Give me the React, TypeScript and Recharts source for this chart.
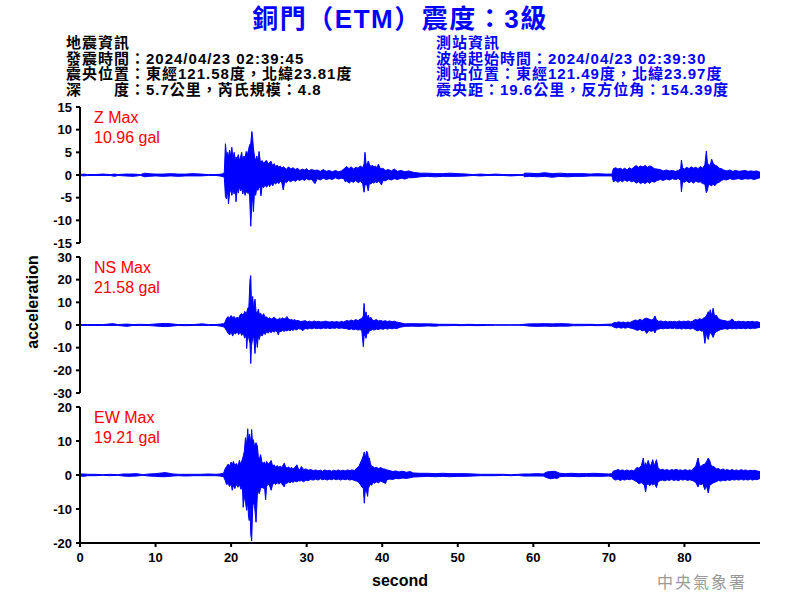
import React from 'react';
import { AreaChart, Area, XAxis, YAxis } from 'recharts';

// [second, low, high] envelope of the record
type Sample = [number, number, number];

const secondTicks = [0, 10, 20, 30, 40, 50, 60, 70, 80];
const zTicks = [-15, -10, -5, 0, 5, 10, 15];
const nsTicks = [-30, -20, -10, 0, 10, 20, 30];
const ewTicks = [-20, -10, 0, 10, 20];

const zTrace: Sample[] = [
  [0, -0.1, 0.1], [0.5, -0.2, 0.2], [1, -0.1, 0.1], [2, -0.1, 0.1], [3, -0.1, 0.2], [4, -0.1, 0.1],
  [4.6, -0.3, 0.2], [5, -0.1, 0.1], [6, -0.2, 0.2], [7, -0.3, 0.2], [8, -0.1, 0.1], [8.6, -0.4, 0.4],
  [9, -0.3, 0.3], [10, -0.2, 0.2], [11, -0.3, 0.2], [12, -0.2, 0.3], [13, -0.3, 0.2], [14, -0.2, 0.2],
  [15, -0.2, 0.3], [16, -0.2, 0.2], [17, -0.1, 0.1], [18, -0.1, 0.1], [18.8, -0.3, 0.2], [19.1, -0.5, 0.5],
  [19.25, -4.8, 6.9], [19.4, -5.3, 4.2], [19.55, -3.5, 5.0], [19.65, -6.4, 3.8], [19.8, -4.0, 5.5],
  [19.95, -3.2, 4.2], [20.1, -4.5, 6.1], [20.25, -3.0, 3.5], [20.4, -4.2, 5.0], [20.55, -2.8, 3.2],
  [20.65, -5.9, 4.0], [20.8, -3.0, 3.6], [20.95, -4.0, 4.5], [21.1, -2.6, 3.2], [21.25, -3.5, 4.0],
  [21.4, -3.0, 5.0], [21.55, -4.2, 3.0], [21.7, -3.0, 4.2], [21.85, -4.5, 3.8], [22.0, -3.5, 5.2],
  [22.15, -4.0, 4.4], [22.3, -3.8, 5.6], [22.45, -4.6, 6.6], [22.6, -11.3, 7.0], [22.75, -6.0, 9.6],
  [22.85, -5.0, 8.2], [22.95, -8.1, 6.0], [23.1, -3.5, 4.0], [23.25, -4.5, 3.2], [23.4, -2.8, 4.2],
  [23.55, -3.4, 3.0], [23.7, -2.6, 5.2], [23.85, -3.0, 3.2], [23.95, -4.6, 2.8], [24.1, -2.5, 3.2],
  [24.3, -2.8, 2.6], [24.5, -2.2, 3.0], [24.7, -2.7, 3.2], [24.9, -2.0, 2.4], [25.1, -2.6, 2.8],
  [25.3, -1.8, 3.0], [25.5, -2.4, 2.0], [25.7, -1.7, 2.5], [25.9, -2.0, 1.8], [26.1, -1.5, 2.2],
  [26.3, -1.9, 1.7], [26.5, -1.4, 2.0], [26.7, -1.6, 1.5], [26.9, -3.3, 1.8], [27.1, -1.4, 1.6],
  [27.3, -1.7, 1.2], [27.6, -1.2, 1.8], [27.9, -1.5, 1.3], [28.2, -1.1, 1.6], [28.5, -1.4, 1.2],
  [28.8, -1.0, 1.5], [29.1, -1.2, 1.0], [29.4, -0.9, 1.3], [29.7, -1.2, 1.1], [30.0, -0.8, 1.4],
  [30.3, -1.1, 0.9], [30.6, -0.9, 1.2], [31.1, -1.9, 1.0], [31.4, -0.8, 1.1], [31.8, -1.1, 0.8],
  [32.2, -0.7, 1.2], [32.6, -1.0, 0.8], [33.0, -0.8, 1.0], [33.4, -1.0, 0.7], [33.8, -0.6, 1.0],
  [34.2, -0.9, 0.7], [34.6, -0.7, 0.9], [34.9, -0.8, 1.3], [35.1, -1.5, 1.6], [35.3, -1.3, 1.9],
  [35.6, -1.8, 1.4], [35.9, -1.4, 1.8], [36.2, -1.6, 1.3], [36.5, -1.2, 1.7], [36.8, -1.7, 1.5],
  [37.1, -1.4, 2.0], [37.4, -1.8, 1.6], [37.6, -3.8, 2.4], [37.72, -2.2, 5.0], [37.85, -2.0, 2.6],
  [38.0, -2.4, 2.2], [38.15, -3.5, 3.1], [38.3, -1.8, 2.4], [38.5, -2.0, 1.8], [38.7, -1.6, 2.2],
  [38.9, -1.8, 1.7], [39.1, -1.5, 2.0], [39.3, -1.7, 1.6], [39.5, -1.4, 2.4], [39.7, -1.6, 1.5],
  [39.9, -2.2, 1.4], [40.1, -1.2, 1.5], [40.4, -1.3, 1.0], [40.8, -0.9, 1.2], [41.2, -1.1, 0.9],
  [41.6, -0.8, 1.3], [42.0, -1.0, 0.8], [42.5, -0.7, 1.0], [43.0, -0.9, 0.7], [43.5, -0.6, 0.9],
  [44.1, -0.6, 0.6], [45, -0.4, 0.4], [46, -0.3, 0.4], [47, -0.4, 0.3], [48, -0.3, 0.3], [49, -0.3, 0.4],
  [50, -0.3, 0.3], [51.2, -0.2, 0.2], [52, -0.1, 0.1], [53, -0.2, 0.2], [54, -0.1, 0.1], [55, -0.1, 0.2],
  [56, -0.1, 0.1], [57, -0.2, 0.1], [58, -0.1, 0.1], [58.7, -0.1, 0.1], [58.8, -0.4, 0.4], [59.5, -0.3, 0.4],
  [60.5, -0.4, 0.3], [61.5, -0.3, 0.5], [62.5, -0.5, 0.3], [63.5, -0.3, 0.4], [64.5, -0.4, 0.3],
  [65.5, -0.3, 0.3], [66.6, -0.3, 0.3], [67.5, -0.2, 0.2], [68.5, -0.2, 0.3], [69.5, -0.2, 0.2],
  [70.4, -0.2, 0.2], [70.6, -1.5, 1.4], [70.9, -1.2, 1.6], [71.2, -1.6, 1.3], [71.5, -1.2, 1.5],
  [71.8, -1.5, 1.2], [72.1, -1.1, 1.5], [72.4, -1.4, 1.1], [72.7, -1.2, 1.6], [73.0, -1.5, 1.3],
  [73.3, -1.3, 1.7], [73.6, -1.8, 2.1], [73.9, -1.5, 1.7], [74.2, -1.9, 2.0], [74.5, -1.6, 1.8],
  [74.8, -1.9, 2.1], [75.1, -1.5, 1.7], [75.4, -1.8, 2.0], [75.7, -1.4, 1.8], [76.0, -1.6, 1.4],
  [76.4, -1.2, 1.3], [76.8, -1.0, 1.2], [77.2, -1.2, 0.9], [77.6, -0.9, 1.1], [78.0, -1.1, 0.9],
  [78.4, -0.8, 1.0], [78.8, -1.0, 0.8], [79.2, -0.8, 1.0], [79.5, -1.2, 1.4], [79.6, -3.7, 3.3],
  [79.75, -1.5, 1.6], [80.0, -1.6, 1.3], [80.3, -1.3, 1.7], [80.6, -1.7, 1.4], [80.9, -1.4, 1.8],
  [81.2, -1.8, 1.5], [81.5, -1.3, 1.7], [81.8, -1.6, 1.4], [82.1, -1.5, 1.9], [82.4, -1.9, 1.5],
  [82.7, -2.0, 2.2], [82.9, -3.9, 5.3], [83.05, -3.3, 2.5], [83.2, -2.0, 2.4], [83.4, -2.2, 2.0],
  [83.6, -2.4, 3.5], [83.8, -2.0, 2.6], [84.0, -2.4, 2.2], [84.3, -1.8, 2.0], [84.6, -1.6, 1.5],
  [84.9, -1.2, 1.4], [85.2, -1.0, 1.1], [85.6, -1.1, 0.9], [86.0, -0.8, 1.1], [86.4, -1.0, 0.8],
  [86.8, -0.9, 1.0], [87.2, -0.8, 0.8], [87.6, -1.0, 0.9], [88.0, -0.8, 1.0], [88.4, -0.9, 0.8],
  [88.8, -0.8, 0.9], [89.2, -1.0, 0.8], [89.6, -0.8, 0.9], [90, -0.6, 0.6],
];

const nsTrace: Sample[] = [
  [0, -0.2, 0.2], [1, -0.2, 0.2], [2, -0.2, 0.2], [3, -0.2, 0.2], [4.4, -0.2, 0.6], [5, -0.2, 0.2],
  [6.2, -0.6, 0.4], [7, -0.2, 0.2], [8, -0.2, 0.3], [9, -0.2, 0.2], [10.6, -0.6, 0.6], [11.3, -0.7, 0.7],
  [12.1, -0.5, 0.5], [13, -0.2, 0.2], [14, -0.3, 0.2], [15, -0.2, 0.2], [16.2, -0.2, 0.5], [17, -0.2, 0.2],
  [18, -0.2, 0.2], [18.6, -0.5, 0.4], [19.0, -0.8, 0.6], [19.2, -1.5, 1.2], [19.4, -2.5, 3.0],
  [19.6, -3.6, 3.7], [19.8, -4.4, 3.0], [20.0, -3.0, 4.2], [20.2, -4.9, 3.2], [20.4, -3.4, 3.8],
  [20.6, -4.0, 2.8], [20.8, -2.8, 3.5], [21.0, -4.2, 3.0], [21.2, -3.0, 4.5], [21.4, -4.6, 5.0],
  [21.6, -3.5, 4.2], [21.8, -5.8, 6.0], [22.0, -4.5, 5.2], [22.06, -10.4, 5.5], [22.2, -4.2, 7.4],
  [22.35, -6.0, 8.0], [22.5, -8.0, 20.0], [22.6, -17.0, 21.8], [22.7, -9.0, 9.0], [22.85, -6.0, 12.6],
  [23.0, -5.5, 7.0], [23.16, -12.6, 11.4], [23.3, -5.0, 6.0], [23.47, -9.9, 5.2], [23.6, -4.6, 7.0],
  [23.73, -6.4, 4.8], [23.9, -4.0, 5.2], [24.1, -4.9, 4.0], [24.3, -3.5, 5.0], [24.5, -4.2, 3.4],
  [24.7, -3.0, 3.6], [24.9, -3.6, 2.8], [25.1, -2.8, 3.2], [25.3, -3.4, 2.6], [25.5, -2.6, 3.0],
  [25.7, -3.2, 3.4], [25.9, -2.5, 2.8], [26.1, -3.0, 2.4], [26.25, -4.4, 2.6], [26.4, -2.6, 3.0],
  [26.6, -3.0, 2.5], [26.8, -2.4, 3.2], [27.0, -2.8, 2.6], [27.2, -2.4, 3.0], [27.4, -2.6, 3.7],
  [27.6, -2.2, 2.6], [27.8, -2.6, 2.2], [28.0, -2.0, 2.5], [28.2, -2.4, 2.0], [28.4, -1.8, 2.4],
  [28.6, -2.2, 1.9], [28.9, -1.6, 2.0], [29.2, -1.8, 1.5], [29.5, -2.5, 1.7], [29.8, -1.5, 1.9],
  [30.1, -1.8, 1.4], [30.4, -1.4, 1.7], [30.7, -1.7, 1.3], [31.0, -1.3, 1.8], [31.3, -1.6, 1.4],
  [31.6, -1.4, 1.6], [31.9, -1.7, 1.3], [32.2, -1.3, 1.5], [32.5, -1.5, 1.7], [32.8, -1.3, 1.4],
  [33.1, -1.6, 1.3], [33.4, -1.3, 1.5], [33.7, -1.5, 1.3], [34.0, -1.2, 1.5], [34.3, -1.5, 1.2],
  [34.6, -1.3, 1.6], [34.9, -1.5, 1.3], [35.3, -1.6, 2.0], [35.6, -2.0, 1.7], [35.9, -1.7, 2.2],
  [36.2, -2.1, 1.8], [36.5, -1.8, 2.4], [36.8, -2.2, 1.9], [37.06, -2.0, 2.6], [37.3, -2.5, 2.8],
  [37.5, -9.6, 4.0], [37.6, -5.0, 9.5], [37.72, -4.0, 3.5], [37.85, -5.9, 5.8], [38.0, -3.5, 3.0],
  [38.16, -3.7, 4.4], [38.3, -2.5, 2.8], [38.5, -2.4, 3.4], [38.7, -2.0, 2.2], [38.9, -2.2, 1.9],
  [39.2, -1.8, 2.4], [39.5, -2.0, 1.8], [39.8, -1.6, 2.0], [40.1, -1.9, 1.6], [40.4, -1.5, 1.9],
  [40.7, -1.8, 1.5], [41.0, -1.4, 1.8], [41.3, -1.7, 1.4], [41.6, -1.4, 1.7], [41.9, -1.6, 1.3],
  [42.35, -1.0, 1.0], [43, -0.6, 0.5], [44, -0.5, 0.6], [45, -0.6, 0.5], [46, -0.4, 0.5], [47, -0.5, 0.4],
  [47.6, -0.3, 0.3], [48.5, -0.3, 0.3], [49.5, -0.2, 0.3], [50.5, -0.3, 0.2], [51.5, -0.2, 0.3],
  [52.5, -0.3, 0.2], [53.8, -0.2, 0.2], [55, -0.1, 0.1], [56, -0.1, 0.1], [57, -0.1, 0.1], [58, -0.1, 0.1],
  [58.7, -0.2, 0.3], [59.6, -0.5, 0.5], [60.5, -0.6, 0.5], [61.5, -0.5, 0.6], [62.5, -0.6, 0.5],
  [63.5, -0.5, 0.6], [64.5, -0.5, 0.5], [65.3, -0.3, 0.3], [66.5, -0.3, 0.3], [67.5, -0.2, 0.3],
  [68.5, -0.3, 0.2], [69.5, -0.2, 0.3], [70.4, -0.4, 0.4], [70.7, -1.0, 1.1], [71.0, -1.3, 1.0],
  [71.3, -1.0, 1.4], [71.6, -1.4, 1.1], [71.9, -1.1, 1.3], [72.2, -1.4, 1.0], [72.5, -1.0, 1.3],
  [72.8, -1.3, 1.1], [73.2, -1.6, 1.8], [73.5, -2.0, 2.2], [73.8, -2.4, 1.9], [74.1, -1.9, 2.5],
  [74.4, -2.6, 2.0], [74.7, -2.2, 2.8], [75.0, -3.7, 3.0], [75.3, -2.4, 2.6], [75.6, -2.8, 2.2],
  [75.9, -2.4, 2.6], [76.1, -3.5, 4.0], [76.3, -2.0, 2.2], [76.6, -1.8, 1.6], [76.9, -1.5, 1.8],
  [77.2, -1.7, 1.4], [77.5, -1.4, 1.7], [77.8, -1.6, 1.3], [78.1, -1.3, 1.6], [78.4, -1.6, 1.4],
  [78.7, -1.3, 1.6], [79.0, -1.7, 1.3], [79.3, -1.4, 1.8], [79.6, -1.8, 1.4], [79.9, -1.4, 1.7],
  [80.2, -1.7, 1.5], [80.5, -1.5, 1.8], [80.8, -1.8, 1.4], [81.1, -1.4, 1.7], [81.4, -2.0, 2.4],
  [81.7, -2.6, 2.2], [82.0, -2.2, 2.8], [82.3, -2.8, 2.4], [82.5, -2.4, 3.0], [82.7, -8.1, 3.3],
  [82.9, -3.8, 4.0], [83.15, -6.4, 5.9], [83.3, -4.0, 4.5], [83.4, -3.5, 6.7], [83.6, -4.0, 4.2],
  [83.8, -5.5, 7.4], [84.0, -3.6, 3.5], [84.2, -3.0, 4.4], [84.5, -2.5, 2.8], [84.8, -2.0, 2.3],
  [85.1, -1.8, 2.0], [85.4, -1.6, 1.9], [85.7, -1.9, 1.6], [86.0, -1.5, 1.8], [86.3, -1.7, 2.7],
  [86.6, -1.5, 1.6], [86.9, -1.7, 1.4], [87.2, -1.4, 1.7], [87.5, -1.6, 1.4], [87.8, -1.4, 1.6],
  [88.1, -1.7, 1.3], [88.4, -1.3, 1.6], [88.7, -1.6, 1.4], [89.0, -1.4, 1.6], [89.3, -1.5, 1.3],
  [89.6, -1.3, 1.5], [90, -1.0, 1.0],
];

const ewTrace: Sample[] = [
  [0, -0.3, 0.3], [0.5, -0.4, 0.3], [1, -0.2, 0.2], [2, -0.2, 0.2], [3, -0.1, 0.1], [4, -0.2, 0.2],
  [5, -0.1, 0.1], [5.7, -0.3, 0.3], [6.5, -0.4, 0.3], [7.5, -0.3, 0.4], [8.3, -0.1, 0.1], [9.1, -0.3, 0.3],
  [10, -0.4, 0.4], [10.8, -0.5, 0.6], [11.3, -0.5, 0.7], [12.3, -0.3, 0.3], [13, -0.2, 0.2], [14, -0.3, 0.2],
  [15, -0.2, 0.2], [16, -0.2, 0.2], [17, -0.2, 0.3], [18, -0.2, 0.2], [18.5, -0.3, 0.3], [19.0, -0.5, 0.5],
  [19.2, -1.5, 1.8], [19.4, -2.8, 2.5], [19.6, -2.5, 3.2], [19.8, -3.4, 2.6], [20.0, -2.6, 3.8],
  [20.15, -4.5, 3.0], [20.3, -3.0, 4.0], [20.5, -4.0, 2.8], [20.7, -2.7, 3.4], [20.9, -3.6, 2.6],
  [21.1, -2.8, 4.3], [21.3, -4.2, 3.0], [21.5, -3.4, 4.8], [21.6, -9.5, 5.5], [21.75, -6.0, 7.0],
  [21.9, -8.0, 11.0], [22.06, -10.4, 9.0], [22.2, -8.0, 13.6], [22.3, -12.0, 10.0], [22.4, -13.4, 12.0],
  [22.5, -9.0, 11.0], [22.6, -17.4, 9.5], [22.72, -19.4, 13.4], [22.85, -10.0, 9.0], [22.94, -8.0, 10.4],
  [23.1, -9.0, 8.5], [23.3, -13.9, 9.5], [23.47, -6.0, 8.5], [23.6, -4.5, 5.5], [23.73, -5.5, 4.5],
  [23.9, -4.0, 6.0], [24.1, -3.5, 3.6], [24.26, -4.0, 3.5], [24.4, -3.0, 3.8], [24.57, -7.3, 3.0],
  [24.7, -3.4, 4.0], [24.9, -2.6, 3.2], [25.1, -3.2, 3.6], [25.3, -4.5, 4.3], [25.5, -2.8, 2.6],
  [25.7, -2.4, 3.0], [25.9, -2.8, 2.2], [26.1, -2.2, 2.8], [26.3, -2.7, 2.3], [26.5, -2.2, 2.6],
  [26.7, -2.6, 2.2], [27.04, -3.5, 3.5], [27.2, -2.2, 2.4], [27.4, -2.5, 2.0], [27.6, -2.0, 2.4],
  [27.8, -2.3, 1.9], [28.0, -1.9, 2.2], [28.2, -2.2, 1.8], [28.4, -1.8, 2.1], [28.7, -2.0, 3.0],
  [28.9, -1.7, 1.9], [29.1, -1.8, 1.5], [29.3, -1.6, 2.5], [29.6, -2.0, 1.6], [29.9, -1.5, 1.8],
  [30.2, -1.7, 1.4], [30.5, -1.3, 1.6], [30.9, -1.5, 1.3], [31.2, -1.2, 1.5], [31.5, -1.5, 1.2],
  [31.8, -1.1, 1.4], [32.1, -1.4, 1.1], [32.4, -1.2, 1.5], [32.7, -1.5, 1.2], [33.0, -1.2, 1.4],
  [33.3, -1.4, 1.1], [33.6, -1.1, 1.4], [33.9, -1.4, 1.2], [34.2, -1.2, 1.5], [34.5, -1.5, 1.2],
  [34.8, -1.2, 1.4], [35.1, -1.4, 1.2], [35.4, -1.2, 1.5], [35.7, -1.5, 1.3], [36.0, -1.3, 1.5],
  [36.3, -1.6, 1.3], [36.6, -1.8, 2.0], [36.9, -2.2, 2.5], [37.1, -2.8, 3.5], [37.3, -3.5, 4.5],
  [37.5, -4.0, 5.7], [37.63, -8.3, 6.8], [37.75, -4.5, 5.0], [37.94, -5.0, 7.0], [38.07, -6.3, 6.5],
  [38.16, -4.0, 5.0], [38.3, -3.2, 5.0], [38.45, -2.8, 3.2], [38.6, -3.0, 2.6], [38.8, -2.2, 2.5],
  [39.0, -2.4, 2.0], [39.2, -2.0, 2.3], [39.5, -2.3, 1.9], [39.8, -1.8, 2.2], [40.1, -2.1, 1.8],
  [40.45, -2.5, 1.7], [40.6, -1.4, 1.5], [41.0, -1.2, 1.3], [41.4, -1.3, 1.0], [41.8, -1.0, 1.2],
  [42.2, -1.1, 0.9], [42.7, -0.9, 1.1], [43.2, -1.0, 0.8], [43.7, -0.8, 1.0], [44.1, -0.6, 0.6],
  [45, -0.5, 0.5], [46, -0.4, 0.5], [47, -0.5, 0.4], [48, -0.4, 0.5], [49, -0.5, 0.4], [50, -0.4, 0.4],
  [51, -0.4, 0.4], [52.05, -0.3, 0.3], [53, -0.2, 0.2], [54, -0.2, 0.2], [55, -0.2, 0.2], [56, -0.1, 0.2],
  [57, -0.2, 0.1], [58, -0.1, 0.2], [58.7, -0.3, 0.3], [59.5, -0.3, 0.3], [60.5, -0.3, 0.4], [61.3, -0.3, 0.3],
  [61.8, -0.8, 0.9], [62.3, -1.1, 1.0], [62.8, -0.9, 1.1], [63.2, -1.0, 0.8], [63.5, -0.5, 0.5],
  [64.3, -0.4, 0.4], [65, -0.4, 0.5], [66, -0.5, 0.4], [67, -0.4, 0.4], [68, -0.4, 0.5], [69, -0.4, 0.4],
  [70, -0.3, 0.3], [70.4, -0.5, 0.4], [70.6, -1.2, 1.2], [70.9, -1.5, 1.3], [71.2, -1.2, 1.6],
  [71.5, -1.6, 1.3], [71.8, -1.3, 1.5], [72.1, -1.5, 1.2], [72.4, -1.2, 1.5], [72.7, -1.4, 1.2],
  [73.0, -1.2, 1.4], [73.3, -1.5, 1.2], [73.7, -2.0, 2.2], [74.0, -2.6, 2.0], [74.3, -2.2, 2.8],
  [74.55, -2.8, 5.0], [74.7, -3.0, 2.5], [74.86, -5.0, 3.6], [75.0, -3.0, 2.6], [75.2, -2.5, 4.3],
  [75.4, -3.2, 2.8], [75.6, -2.5, 3.0], [75.8, -3.0, 4.5], [76.0, -2.4, 2.6], [76.3, -3.7, 4.5],
  [76.5, -2.0, 2.2], [76.8, -1.6, 1.5], [77.1, -1.5, 1.7], [77.4, -1.7, 1.4], [77.7, -1.4, 1.6],
  [78.0, -1.6, 1.3], [78.3, -1.3, 1.6], [78.6, -1.6, 1.4], [78.9, -1.4, 1.7], [79.2, -1.7, 1.4],
  [79.5, -1.3, 1.5], [79.8, -1.5, 1.3], [80.1, -1.3, 1.6], [80.4, -1.6, 1.3], [80.7, -1.4, 1.5],
  [81.0, -1.6, 1.3], [81.2, -1.8, 2.0], [81.5, -2.2, 2.6], [81.8, -3.5, 5.0], [82.0, -2.5, 2.8],
  [82.2, -2.9, 2.5], [82.4, -2.4, 3.0], [82.7, -4.3, 3.2], [82.9, -3.0, 3.8], [83.15, -5.3, 5.0],
  [83.35, -3.0, 4.2], [83.5, -2.8, 3.0], [83.7, -2.5, 2.6], [83.9, -2.2, 2.5], [84.2, -2.0, 1.8],
  [84.5, -1.6, 1.9], [84.8, -1.8, 1.5], [85.1, -1.5, 1.8], [85.4, -1.7, 1.4], [85.7, -1.4, 1.6],
  [86.0, -1.6, 1.3], [86.3, -1.3, 1.6], [86.6, -1.5, 1.3], [86.9, -1.3, 1.5], [87.2, -1.5, 1.2],
  [87.5, -1.2, 1.6], [87.8, -1.5, 1.3], [88.1, -1.3, 1.5], [88.4, -1.5, 1.2], [88.7, -1.2, 1.4],
  [89.0, -1.5, 1.3], [89.3, -1.3, 1.4], [89.6, -1.4, 1.2], [90, -1.0, 1.0],
];

const quakeInfo = [
  '地震資訊',
  '發震時間：2024/04/23 02:39:45',
  '震央位置：東經121.58度，北緯23.81度',
  '深　　度：5.7公里，芮氏規模：4.8',
];
const stationInfo = [
  '測站資訊',
  '波線起始時間：2024/04/23 02:39:30',
  '測站位置：東經121.49度，北緯23.97度',
  '震央距：19.6公里，反方位角：154.39度',
];
const peakLabels = [
  { name: 'Z Max', value: '10.96 gal' },
  { name: 'NS Max', value: '21.58 gal' },
  { name: 'EW Max', value: '19.21 gal' },
];

const LATIN = '"Liberation Sans", Arial, sans-serif';
const CJK = '"Noto Sans CJK TC", "Noto Sans CJK SC", sans-serif';
const FONT = '"Liberation Sans", Arial, "Noto Sans CJK TC", "Noto Sans CJK SC", sans-serif';
const tickStyle = { fontSize: 13, fontWeight: 'bold', fill: '#000', fontFamily: LATIN };
const axisStroke = { stroke: '#000', strokeWidth: 2 };

interface TraceProps {
  data: Sample[];
  top: number;
  yDomain: [number, number];
  yTicks: number[];
  showX?: boolean;
}

const Trace: React.FC<TraceProps> = ({ data, top, yDomain, yTicks, showX }) => {
  const rows = data.map(([t, lo, hi]) => ({ t, range: [lo, hi] }));
  return (
    <div style={{ position: 'absolute', left: 0, top }}>
      <AreaChart
        width={800}
        height={showX ? 186 : 156}
        data={rows}
        margin={{ top: 10, right: 40, bottom: showX ? 0 : 10, left: 40 }}
      >
        <XAxis
          dataKey="t"
          type="number"
          domain={[0, 90]}
          ticks={secondTicks}
          interval={0}
          hide={!showX}
          height={40}
          tick={tickStyle}
          axisLine={axisStroke}
          tickLine={axisStroke}
          tickSize={4}
          tickMargin={6}
          allowDataOverflow
        />
        <YAxis
          type="number"
          domain={yDomain}
          ticks={yTicks}
          interval={0}
          width={40}
          tick={tickStyle}
          axisLine={axisStroke}
          tickLine={axisStroke}
          tickSize={4}
          tickMargin={4}
          allowDataOverflow
        />
        <Area
          dataKey="range"
          type="linear"
          stroke="#0000ff"
          strokeWidth={1}
          fill="#0000ff"
          fillOpacity={1}
          dot={false}
          activeDot={false}
          isAnimationActive={false}
        />
      </AreaChart>
    </div>
  );
};

const App: React.FC = () => {
  return (
    <div style={{ position: 'absolute', left: 0, top: 0, width: 800, height: 600, background: '#fff', overflow: 'hidden' }}>
      <Trace data={zTrace} top={97} yDomain={[-15, 15]} yTicks={zTicks} />
      <Trace data={nsTrace} top={247} yDomain={[-30, 30]} yTicks={nsTicks} />
      <Trace data={ewTrace} top={397} yDomain={[-20, 20]} yTicks={ewTicks} showX />
      <svg width={800} height={600} style={{ position: 'absolute', left: 0, top: 0, pointerEvents: 'none' }}>
        <text x={400} y={28} textAnchor="middle" fontFamily={FONT} fontSize={26} fontWeight="bold" letterSpacing={1.5} fill="#0000ff">
          銅門（ETM）震度：3級
        </text>
        {quakeInfo.map((line, i) => (
          <text key={line} x={66} y={48 + i * 15.7} fontFamily={FONT} fontSize={15} fontWeight="bold" letterSpacing={1} fill="#000">
            {line}
          </text>
        ))}
        {stationInfo.map((line, i) => (
          <text key={line} x={436} y={48 + i * 15.7} fontFamily={FONT} fontSize={15} fontWeight="bold" letterSpacing={1} fill="#0000ff">
            {line}
          </text>
        ))}
        {peakLabels.map((p, i) => (
          <g key={p.name}>
            <text x={94} y={123 + i * 150} fontFamily={LATIN} fontSize={16} fill="#ff0000">{p.name}</text>
            <text x={94} y={143 + i * 150} fontFamily={LATIN} fontSize={16} fill="#ff0000">{p.value}</text>
          </g>
        ))}
        <text
          x={38}
          y={302}
          transform="rotate(-90 38 302)"
          textAnchor="middle"
          fontFamily={LATIN}
          fontSize={16}
          fontWeight="bold"
          fill="#000"
        >
          acceleration
        </text>
        <text x={400} y={586} textAnchor="middle" fontFamily={LATIN} fontSize={16} fontWeight="bold" fill="#000">
          second
        </text>
        <text x={657} y={588} fontFamily={CJK} fontSize={16} letterSpacing={2} fill="#999999">
          中央氣象署
        </text>
      </svg>
    </div>
  );
};

export default App;
